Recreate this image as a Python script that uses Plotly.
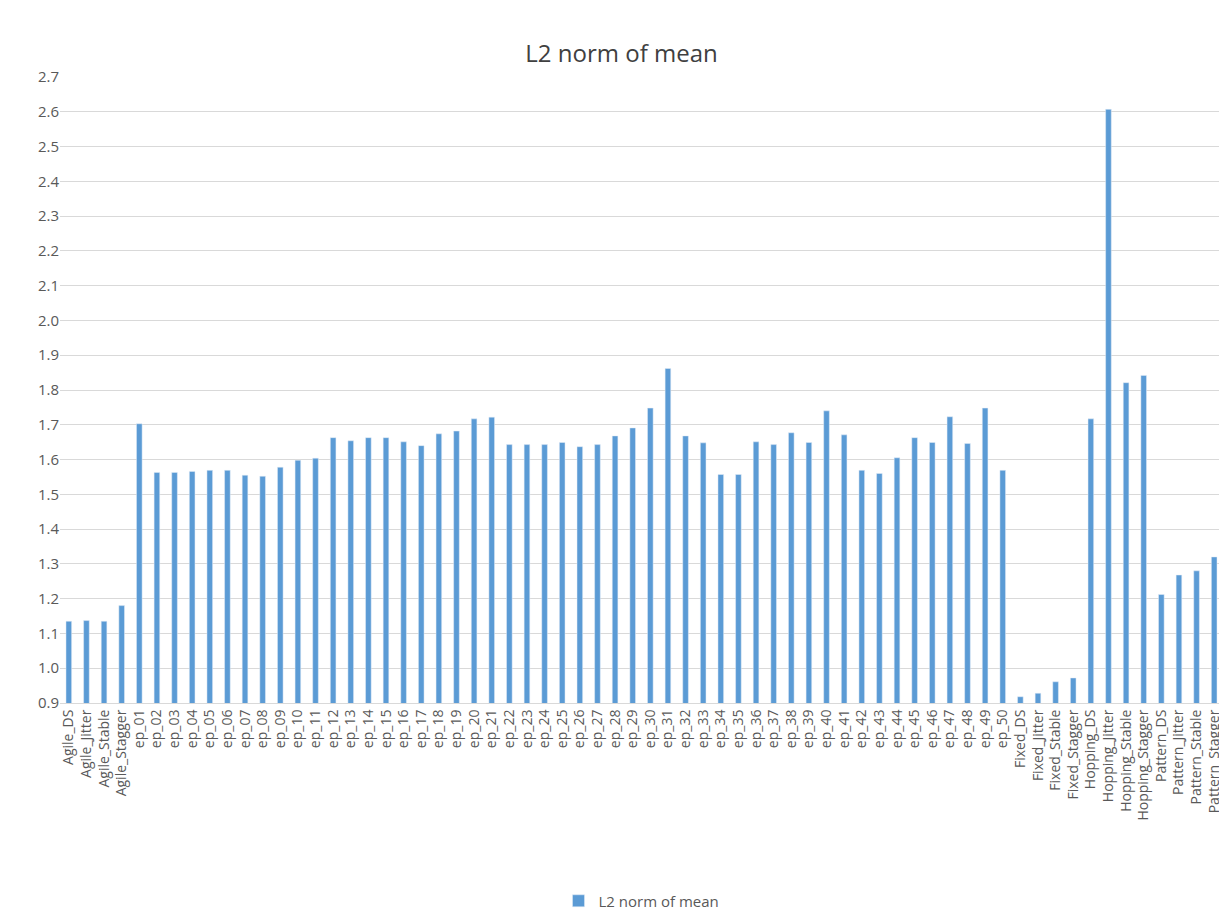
import plotly.graph_objects as go

categories = (["Agile_DS", "Agile_Jitter", "Agile_Stable", "Agile_Stagger"]
              + [f"ep_{i:02d}" for i in range(1, 51)]
              + ["Fixed_DS", "Fixed_Jitter", "Fixed_Stable", "Fixed_Stagger",
                 "Hopping_DS", "Hopping_Jitter", "Hopping_Stable", "Hopping_Stagger",
                 "Pattern_DS", "Pattern_Jitter", "Pattern_Stable", "Pattern_Stagger"])

agile_values = [1.135, 1.137, 1.135, 1.180]
ep_values = [1.703, 1.563, 1.563, 1.566, 1.569, 1.569, 1.555, 1.552, 1.578, 1.598,
             1.604, 1.663, 1.654, 1.663, 1.663, 1.651, 1.640, 1.674, 1.682, 1.717,
             1.722, 1.643, 1.643, 1.643, 1.649, 1.637, 1.643, 1.668, 1.691, 1.748,
             1.862, 1.668, 1.648, 1.557, 1.557, 1.651, 1.643, 1.677, 1.649, 1.740,
             1.671, 1.569, 1.560, 1.605, 1.663, 1.649, 1.723, 1.646, 1.748, 1.569]
other_values = [0.918, 0.928, 0.961, 0.972, 1.717, 2.607, 1.821, 1.842,
                1.212, 1.268, 1.280, 1.320]
values = agile_values + ep_values + other_values

fig = go.Figure(go.Bar(x=categories, y=values, name="L2 norm of mean",
                       marker_color="#5b9bd5", showlegend=True))
fig.update_layout(
    width=1227, height=922,
    title=dict(text="L2 norm of mean", x=0.5, y=0.96, font=dict(size=24, color="#404040")),
    font=dict(family="Open Sans", color="#595959", size=15),
    plot_bgcolor="white", paper_bgcolor="white",
    bargap=0.68,
    margin=dict(l=52, r=12, t=69, b=208),
    legend=dict(orientation="h", x=0.5, xanchor="center", y=-0.29, yanchor="top",
                font=dict(size=15)),
    xaxis=dict(tickangle=-90, showline=True, linecolor="#d9d9d9", ticks="",
               tickmode="linear", dtick=1, tickfont=dict(size=14)),
    yaxis=dict(range=[0.9, 2.7], dtick=0.1, tickformat=".1f", gridcolor="#d9d9d9",
               zeroline=False),
)
fig.write_html("out.html")
